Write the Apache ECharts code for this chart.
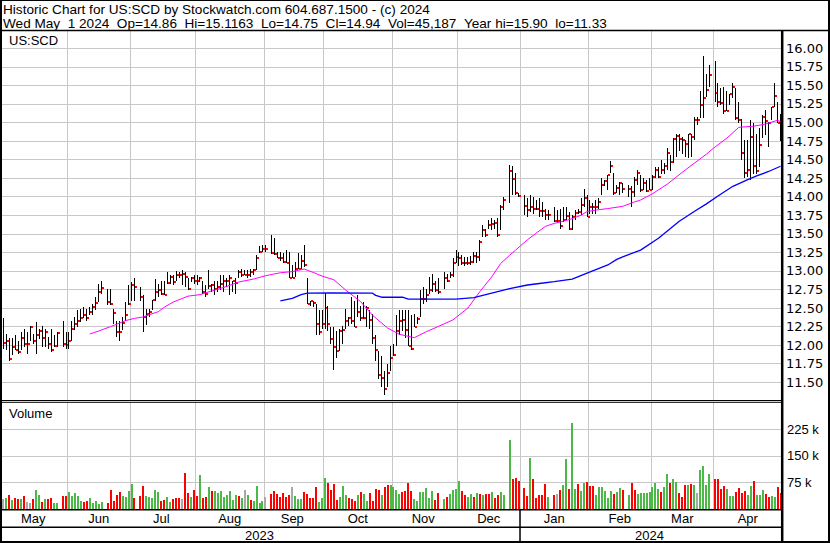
<!DOCTYPE html>
<html><head><meta charset="utf-8">
<script src="https://cdn.jsdelivr.net/npm/echarts@6/dist/echarts.min.js"></script>
<style>html,body{margin:0;padding:0;background:#fff}#c{width:830px;height:543px}</style>
</head><body><div id="c"></div>
<script>
// ================= DATA =================
const firstDay = '2023-05-02';
const lastDay = '2024-05-01';
const holidays = ['2023-05-29','2023-06-19','2023-07-04','2023-09-04','2023-11-23','2023-12-25','2024-01-01','2024-01-15','2024-02-19','2024-03-29'];
const monthNames = ['Jan','Feb','Mar','Apr','May','Jun','Jul','Aug','Sep','Oct','Nov','Dec'];
const headerLine1 = 'Historic Chart for US:SCD by Stockwatch.com 604.687.1500 - (c) 2024';
const headerLine2 = 'Wed May  1 2024  Op=14.86  Hi=15.1163  Lo=14.75  Cl=14.94  Vol=45,187  Year hi=15.90  lo=11.33';
const symbolLabel = 'US:SCD';
const volumeLabel = 'Volume';

// one value per trading day (holidays excluded)
const priceHigh = [
 12.36,12.15,12.09,12.09,12.13,12.06,12.17,12.22,12.17,12.26,12.15,12.31,12.22,12.26,12.22,12.11,12.22,12.13,12.17,12.33,12.17,
 12.18,12.33,12.38,12.47,12.49,12.51,12.49,12.51,12.56,12.65,12.83,12.87,12.76,12.76,12.49,12.33,12.33,12.38,12.58,12.81,12.85,
 12.90,12.78,12.67,12.49,12.49,12.61,12.89,12.83,12.87,12.87,12.99,12.94,12.94,13.00,12.99,13.01,12.99,12.90,12.92,12.94,
 12.94,12.92,12.87,12.81,13.01,12.83,12.87,12.87,12.94,12.94,12.90,12.94,12.87,12.90,13.01,13.03,13.01,13.01,13.03,13.03,13.21,13.33,13.35,
 13.35,13.48,13.44,13.26,13.26,13.24,13.28,13.26,13.08,13.12,13.24,13.21,13.35,12.90,12.60,12.60,12.56,12.47,12.47,12.70,
 12.53,12.24,12.24,12.19,12.22,12.26,12.49,12.38,12.65,12.60,12.67,12.53,12.58,12.53,12.47,12.42,12.13,11.92,11.85,11.65,11.74,11.99,
 12.01,12.40,12.47,12.47,12.47,12.47,12.40,12.42,12.38,12.74,12.78,12.76,12.92,12.96,12.87,12.90,12.99,12.96,12.99,13.17,13.28,
 13.26,13.21,13.19,13.19,13.20,13.26,13.25,13.41,13.62,13.57,13.68,13.71,13.68,13.71,13.89,14.00,14.43,14.41,14.32,14.05,
 14.02,13.98,14.02,14.00,13.95,13.98,13.93,13.84,13.82,13.86,13.82,13.84,13.86,13.86,13.80,13.75,13.82,13.84,13.98,14.11,14.02,
 13.95,13.91,13.95,13.98,14.25,14.23,14.29,14.48,14.32,14.16,14.20,14.18,14.16,14.14,14.27,14.36,14.29,14.25,14.22,14.25,
 14.29,14.40,14.40,14.49,14.45,14.65,14.56,14.79,14.85,14.85,14.81,14.76,14.85,14.85,15.08,15.08,15.42,15.90,15.66,15.78,
 15.83,15.53,15.46,15.48,15.42,15.39,15.53,15.46,15.28,15.05,14.76,14.76,15.03,14.99,14.85,14.92,15.10,15.17,15.01,15.21,15.53,15.28,
 15.12
];
const priceLow = [
 11.95,11.93,11.79,11.86,11.93,11.88,11.93,11.97,11.88,12.06,12.02,11.88,12.08,11.97,11.97,11.95,11.91,11.97,11.97,11.97,11.95,
 11.95,12.06,12.20,12.24,12.31,12.36,12.33,12.40,12.40,12.47,12.58,12.69,12.54,12.54,12.29,12.11,12.06,12.20,12.33,12.54,12.60,
 12.60,12.60,12.18,12.27,12.38,12.47,12.60,12.65,12.67,12.67,12.83,12.83,12.81,12.87,12.90,12.81,12.78,12.74,12.85,12.83,
 12.81,12.85,12.69,12.65,12.76,12.71,12.67,12.71,12.74,12.71,12.78,12.67,12.71,12.69,12.90,12.92,12.94,12.90,12.92,12.94,13.01,13.24,13.26,
 13.26,13.23,13.21,13.17,13.14,13.11,13.10,12.90,12.90,12.92,13.03,13.03,13.05,12.55,12.53,12.51,12.13,12.13,12.22,12.22,
 12.19,12.01,11.67,11.83,11.92,12.01,12.22,12.26,12.29,12.24,12.38,12.33,12.35,12.24,12.22,12.01,11.79,11.54,11.43,11.33,11.43,11.65,
 11.85,11.99,12.13,12.19,12.10,11.99,11.94,12.24,12.29,12.38,12.56,12.58,12.69,12.71,12.71,12.69,12.76,12.85,12.90,12.92,13.10,
 13.06,13.08,13.06,13.08,13.08,13.10,13.10,13.14,13.46,13.46,13.57,13.55,13.57,13.46,13.55,13.82,13.91,14.02,14.02,14.00,
 13.75,13.73,13.80,13.77,13.82,13.73,13.73,13.68,13.68,13.66,13.64,13.57,13.66,13.68,13.55,13.55,13.68,13.77,13.75,13.86,13.72,
 13.77,13.77,13.77,13.84,14.02,14.14,14.09,14.32,14.02,14.05,14.02,14.05,14.00,13.86,14.00,14.16,14.07,14.09,14.07,14.09,
 14.09,14.25,14.25,14.31,14.31,14.36,14.34,14.45,14.54,14.61,14.58,14.54,14.52,14.54,14.76,14.97,15.06,15.06,15.35,15.48,
 15.28,15.21,15.24,15.12,15.15,15.24,15.33,15.03,14.99,14.50,14.25,14.27,14.22,14.31,14.31,14.40,14.79,14.83,14.67,15.03,15.21,14.99,
 14.75
];
const priceClose = [
 12.03,12.06,11.81,11.97,11.94,11.91,12.09,12.02,12.02,12.24,12.06,12.13,12.19,12.10,12.18,12.02,11.93,11.99,12.16,12.02,12.00,
 12.05,12.22,12.28,12.32,12.36,12.41,12.36,12.45,12.51,12.57,12.71,12.77,12.58,12.55,12.43,12.18,12.18,12.30,12.40,12.55,12.81,
 12.78,12.65,12.38,12.42,12.44,12.61,12.71,12.74,12.69,12.68,12.84,12.92,12.85,12.94,12.95,12.96,12.92,12.76,12.90,12.86,
 12.86,12.90,12.71,12.69,12.80,12.81,12.76,12.78,12.83,12.86,12.86,12.90,12.86,12.84,12.99,12.94,12.94,12.94,12.99,13.01,13.18,13.26,13.29,
 13.29,13.24,13.23,13.17,13.17,13.12,13.10,12.90,12.90,13.03,13.03,13.14,13.08,12.55,12.59,12.57,12.28,12.17,12.28,12.50,
 12.28,12.08,11.98,11.92,12.19,12.20,12.33,12.36,12.33,12.24,12.44,12.36,12.36,12.50,12.34,12.09,11.94,11.60,11.56,11.41,11.62,11.83,
 11.87,12.19,12.32,12.34,12.21,11.99,11.95,12.24,12.35,12.62,12.62,12.68,12.74,12.82,12.74,12.72,12.90,12.87,12.95,13.10,13.19,
 13.18,13.10,13.11,13.10,13.12,13.20,13.19,13.39,13.55,13.48,13.62,13.63,13.64,13.48,13.86,13.95,14.35,14.24,14.05,14.01,
 13.88,13.82,13.86,13.84,13.84,13.81,13.81,13.75,13.76,13.67,13.67,13.61,13.68,13.74,13.56,13.73,13.78,13.80,13.89,13.98,13.73,
 13.86,13.86,13.86,13.93,14.16,14.21,14.29,14.42,14.05,14.12,14.18,14.11,14.10,14.06,14.22,14.32,14.09,14.18,14.08,14.09,
 14.27,14.36,14.26,14.36,14.41,14.59,14.47,14.78,14.82,14.78,14.76,14.71,14.84,14.80,15.04,15.03,15.24,15.33,15.44,15.64,
 15.40,15.28,15.26,15.15,15.16,15.39,15.48,15.06,15.03,14.59,14.32,14.36,14.80,14.42,14.34,14.70,15.08,15.02,14.99,15.21,15.36,14.99,
 14.94
];
const volume = [
 29000,32700,40200,26200,32700,29000,29000,37400,20600,17800,29000,54200,41100,20600,29000,29000,31800,17800,17800,37400,37400,
 48600,37400,45800,37400,23400,20600,23400,31800,17800,23400,15000,20600,17800,54200,23400,40200,48600,37400,34600,51400,71100,
 31800,37400,65500,37400,34600,31800,54200,48600,23400,26200,34600,20600,29000,31800,31800,29000,101900,45800,34600,54200,
 37400,96300,31800,34600,62600,51400,51400,45800,51400,34600,40200,51400,26200,40200,37400,31800,54200,40200,26200,23400,65500,17800,23400,
 34600,43000,51400,43000,34600,45800,34600,40200,62600,37400,29000,29000,48600,43000,31800,31800,62600,20600,31800,87900,
 73900,54200,71100,26200,34600,65500,40200,31800,29000,23400,40200,48600,43000,23400,45800,23400,57000,54200,40200,62600,68300,68300,
 62600,54200,43000,48600,51400,73900,51400,29000,23400,48600,48600,59800,31800,51400,26200,45800,29000,34600,43000,54200,57000,
 79500,51400,40200,34600,43000,34600,45800,43000,40200,43000,43000,48600,31800,40200,48600,40200,194500,85100,87900,79500,
 59800,37400,144000,85100,31800,40200,40200,71100,34600,40200,43000,54200,68300,141200,57000,242200,57000,71100,51400,73900,76700,
 65500,65500,40200,62600,62600,51400,31800,51400,43000,48600,59800,54200,40200,73900,54200,43000,45800,45800,45800,48600,
 62600,73900,57000,48600,62600,99100,73900,85100,76700,45800,34600,68300,68300,71100,68300,45800,110300,121600,68300,99100,
 85100,85100,57000,65500,57000,37400,37400,48600,59800,45800,51400,40200,65500,79500,40200,40200,54200,43000,34600,37400,34600,62600,
 45187
];
// u = close up, d = close down, n = unchanged (volume bar colour key)
const volumeDir = [
 'n','u','d','u','d','d','u','d','n','n','d','u','u','d','u','d','d','u','u','d','d',
 'u','u','u','u','u','d','d','u','u','u','u','u','d','d','d','d','d','u','u','u','u',
 'd','d','d','u','u','u','u','u','d','d','u','u','d','d','d','n','d','d','u','d',
 'd','u','d','d','u','d','u','u','u','u','u','u','u','u','d','u','n','u','d','u','u','u','u',
 'n','d','d','d','d','d','d','d','n','u','u','u','d','d','d','d','d','u','u','u',
 'd','d','d','d','u','u','u','d','d','d','u','d','u','u','d','d','d','d','u','d','d','u',
 'u','u','u','d','d','d','d','u','u','u','u','u','u','u','d','d','u','d','u','u','u',
 'u','d','d','u','u','d','u','d','u','d','d','u','d','d','u','u','u','d','d','d',
 'd','d','u','d','d','d','d','d','u','d','n','d','u','u','d','u','u','d','u','u','d',
 'd','d','u','u','u','u','u','u','d','u','u','d','u','d','d','u','u','u','u','u',
 'u','u','u','d','u','u','d','u','u','d','d','d','u','d','u','n','u','u','u','u',
 'd','d','d','d','u','u','u','d','d','d','d','u','u','d','u','u','u','d','d','u','u','d',
 'd'
];
// moving averages: weekday position on the axis and value
const maFastDay = [29,32,36,38,41,44,47,49,52,54,57,62,66,70,75,79,84,88,93,97,101,104,107,111,115,120,124,129,133,138,142,146,151,156,160,164,167,170,172,176,178,182,185,190,194,196,199,203,208,212,214,218,223,229,232,236,239,243,247,252,256,260,261];
const maFastValue = [12.15,12.19,12.25,12.28,12.33,12.36,12.38,12.41,12.45,12.51,12.58,12.66,12.68,12.73,12.79,12.85,12.89,12.935,12.975,12.99,13.025,12.98,12.93,12.88,12.74,12.585,12.40,12.23,12.145,12.10,12.18,12.25,12.34,12.50,12.72,12.92,13.10,13.21,13.28,13.42,13.48,13.60,13.64,13.69,13.75,13.80,13.82,13.84,13.87,13.93,13.955,14.04,14.17,14.36,14.45,14.57,14.67,14.79,14.935,14.95,14.98,15.03,15.01];
const maSlowDay = [93,97,100,102,110,124,125,127,134,136,152,158,164,170,176,180,185,191,196,203,206,208,214,220,227,232,236,240,245,250,253,257,261];
const maSlowValue = [12.595,12.63,12.68,12.70,12.705,12.70,12.67,12.645,12.645,12.62,12.62,12.64,12.70,12.76,12.81,12.83,12.855,12.89,12.97,13.08,13.155,13.19,13.28,13.44,13.67,13.80,13.90,14.01,14.14,14.23,14.28,14.34,14.41];

// ================= BUILD =================
const DAY = 86400000;
const axisDays = [];
for (let t = Date.parse(firstDay); t <= Date.parse(lastDay); t += DAY) {
  const d = new Date(t), w = d.getUTCDay();
  if (w !== 0 && w !== 6) axisDays.push(d.toISOString().slice(0, 10));
}
const holidaySet = new Set(holidays);
const tradeDays = axisDays.filter(d => !holidaySet.has(d));

// month grid lines: before the last weekday on or before the 1st of each month
const boundaries = [];
{
  let y = +firstDay.slice(0, 4), m = +firstDay.slice(5, 7);
  while (true) {
    m++; if (m > 12) { m = 1; y++; }
    const ms = y + '-' + String(m).padStart(2, '0') + '-01';
    if (ms >= lastDay) break;
    let idx = 0;
    for (let i = 0; i < axisDays.length; i++) if (axisDays[i] <= ms) idx = i;
    boundaries.push(idx);
  }
}
const boundarySet = new Set(boundaries);
const segs = [0, ...boundaries, axisDays.length];
const monthLabelSet = new Set();
for (let k = 0; k < segs.length - 1; k++) monthLabelSet.add(Math.floor((segs[k] + segs[k + 1]) / 2 - 0.5));
const yearStart = axisDays.findIndex(d => d.slice(0, 4) !== axisDays[0].slice(0, 4));
const yearLabelSet = new Set([Math.floor(yearStart / 2 - 0.5), Math.floor((yearStart + axisDays.length) / 2 - 0.5)]);

const dirColor = { u: '#4cb848', d: '#ff0000', n: '#a8a8a8' };
const FONT = '"Liberation Sans", Arial, sans-serif';
const GRID_L = 2, GRID_W = 780;
const gridColor = '#c8c8c8';

const chart = echarts.init(document.getElementById('c'), null, { renderer: 'svg' });

function blackLine(x1, y1, x2, y2, w) {
  return { type: 'line', z: 100, silent: true, shape: { x1, y1, x2, y2 }, style: { stroke: '#000', lineWidth: w } };
}
// keep runs of spaces visible in SVG text
const keepSpaces = s => s.replace(/  /g, ' \u00a0');
function label(text, x, y, size) {
  return { type: 'text', z: 100, silent: true, style: { text: keepSpaces(text), x, y, fill: '#000', font: (size || 13) + 'px ' + FONT, verticalAlign: 'middle', align: 'left' } };
}
const xSep = GRID_L + yearStart * (GRID_W / axisDays.length);

const catX = (gridIndex, extra) => Object.assign({
  type: 'category', gridIndex, data: axisDays, boundaryGap: true,
  axisLine: { show: false }, axisTick: { show: false },
  axisLabel: { show: false },
  splitLine: { show: true, interval: (i) => boundarySet.has(i), lineStyle: { color: gridColor, width: 1 } }
}, extra || {});

chart.setOption({
  animation: false,
  backgroundColor: '#fff',
  grid: [
    { left: GRID_L, width: GRID_W, top: 29.75, height: 371 },
    { left: GRID_L, width: GRID_W, top: 402.3, height: 107 }
  ],
  xAxis: [
    catX(0),
    catX(1, {
      axisLabel: { show: true, interval: (i) => monthLabelSet.has(i), margin: 3, color: '#000',
        fontFamily: FONT, fontSize: 13, formatter: v => monthNames[+v.slice(5, 7) - 1] }
    }),
    { type: 'category', gridIndex: 1, data: axisDays, boundaryGap: true, position: 'bottom', offset: 17,
      axisLine: { show: false }, axisTick: { show: false }, splitLine: { show: false },
      axisLabel: { show: true, interval: (i) => yearLabelSet.has(i), margin: 3, color: '#000',
        fontFamily: FONT, fontSize: 13, formatter: v => v.slice(0, 4) } }
  ],
  yAxis: [
    { type: 'value', gridIndex: 0, position: 'right', min: 11.25, max: 16.25, interval: 0.25,
      axisLine: { show: false }, axisTick: { show: false },
      axisLabel: { margin: 4, color: '#000', fontFamily: '"DejaVu Sans", Verdana, sans-serif', fontSize: 13,
        formatter: v => (v < 11.4 || v > 16.1) ? '' : v.toFixed(2) },
      splitLine: { show: true, showMinLine: false, showMaxLine: false, lineStyle: { color: gridColor, width: 1 } } },
    { type: 'value', gridIndex: 1, position: 'right', min: 0, max: 300000, interval: 75000,
      axisLine: { show: false }, axisTick: { show: false },
      axisLabel: { margin: 5, color: '#000', fontFamily: FONT, fontSize: 13,
        formatter: v => (v > 0 && v < 300000) ? (v / 1000) + ' k' : '' },
      splitLine: { show: true, showMinLine: false, showMaxLine: false, lineStyle: { color: gridColor, width: 1 } } }
  ],
  series: [
    {
      type: 'custom', name: 'price', xAxisIndex: 0, yAxisIndex: 0, z: 3,
      data: tradeDays.map((d, i) => [d, priceHigh[i], priceLow[i], priceClose[i]]),
      encode: { x: 0, y: [1, 2, 3] },
      renderItem(params, api) {
        const xi = api.value(0);
        const hi = api.coord([xi, api.value(1)]);
        const lo = api.coord([xi, api.value(2)]);
        const cl = api.coord([xi, api.value(3)]);
        const col = Math.floor(hi[0]);
        const y1 = Math.round(hi[1]), y2 = Math.max(Math.round(lo[1]), y1 + 1);
        return { type: 'group', children: [
          { type: 'rect', shape: { x: col, y: y1, width: 1, height: y2 - y1 }, style: { fill: '#000' } },
          { type: 'rect', shape: { x: col + 1, y: Math.round(cl[1]) - 1, width: 2, height: 2 }, style: { fill: '#ff0000' } }
        ] };
      }
    },
    {
      type: 'line', name: 'fast', xAxisIndex: 0, yAxisIndex: 0, z: 4, symbol: 'none',
      lineStyle: { color: '#ff00ff', width: 1 },
      data: maFastDay.map((k, i) => [axisDays[k], maFastValue[i]])
    },
    {
      type: 'line', name: 'slow', xAxisIndex: 0, yAxisIndex: 0, z: 4, symbol: 'none',
      lineStyle: { color: '#0000ff', width: 1.3 },
      data: maSlowDay.map((k, i) => [axisDays[k], maSlowValue[i]])
    },
    {
      type: 'custom', name: 'volume', xAxisIndex: 1, yAxisIndex: 1, z: 3,
      data: tradeDays.map((d, i) => [d, volume[i]]),
      encode: { x: 0, y: 1 },
      renderItem(params, api) {
        const xi = api.value(0);
        const top = api.coord([xi, api.value(1)]);
        const base = api.coord([xi, 0]);
        const col = Math.round(top[0]) - 1;
        const yt = Math.round(top[1]);
        return { type: 'rect', shape: { x: col, y: yt, width: 2, height: Math.round(base[1]) - yt },
          style: { fill: dirColor[volumeDir[params.dataIndex]] } };
      }
    }
  ],
  graphic: { elements: [
    blackLine(0, 0.5, 830, 0.5, 1),
    blackLine(1, 0, 1, 543, 2),
    blackLine(829, 0, 829, 543, 2),
    blackLine(0, 542, 830, 542, 2),
    blackLine(0, 30.5, 830, 30.5, 1.5),
    blackLine(782.2, 30, 782.2, 541, 2.5),
    blackLine(0, 400.5, 782, 400.5, 1),
    blackLine(0, 402.3, 782, 402.3, 1),
    blackLine(0, 509.8, 782, 509.8, 1.5),
    blackLine(0, 527.2, 782, 527.2, 1.5),
    blackLine(xSep, 509, xSep, 541, 1.5),
    label(headerLine1, 3, 9.5, 13.6),
    label(headerLine2, 3, 23.3, 13.6),
    label(symbolLabel, 9, 40),
    label(volumeLabel, 9, 413)
  ] }
});
</script></body></html>
